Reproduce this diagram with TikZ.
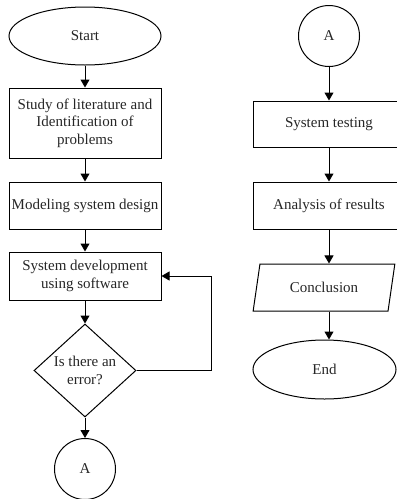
\documentclass[tikz,border=0pt]{standalone}
\usepackage{fontspec}
\setmainfont{Liberation Serif}
\usetikzlibrary{shapes.geometric,arrows.meta}
\newcommand{\leftpart}[1]{\makebox[164pt][l]{\makebox[152pt][c]{#1}}}
\begin{document}
\begin{tikzpicture}[x=1pt,y=-1pt,
  every node/.style={font=\fontsize{15}{17.5}\selectfont, text=black!85, align=center, inner sep=0pt, line width=1pt},
  oval/.style={draw, ellipse},
  procbox/.style={draw, rectangle, minimum width=152pt},
  widebox/.style={draw, rectangle, minimum width=164pt},
  conn/.style={draw, circle, minimum size=61pt},
  decide/.style={draw, diamond, minimum width=102pt, minimum height=93pt},
  iobox/.style={draw, trapezium, trapezium left angle=71, trapezium right angle=109, trapezium stretches=true, minimum width=142pt, minimum height=47pt},
  flow/.style={line width=1pt, -{Triangle[length=8pt,width=9pt]}}
]
\useasboundingbox (0,0) rectangle (397,499);
\clip (0,0) rectangle (397,499);
% left column
\node[oval, minimum width=152pt, minimum height=58pt] (start) at (85,36) {Start};
\node[procbox, minimum height=70pt] (b1) at (85,123) {Study of literature and\\Identification of\\problems};
\node[procbox, minimum height=47pt] (b2) at (85,205.5) {Modeling system design};
\node[procbox, minimum height=48pt] (b3) at (85,276) {System development\\using software};
\node[decide] (d) at (85,370.5) {Is there an\\error?};
\node[conn] (a1) at (85,469) {A};
% right column
\node[conn] (a2) at (329,36) {A};
\node[widebox, minimum height=46pt] (t1) at (335,124) {\leftpart{System testing}};
\node[widebox, minimum height=47pt] (t2) at (335,205.5) {\leftpart{Analysis of results}};
\node[iobox] (con) at (324,287.5) {Conclusion};
\node[oval, minimum width=143pt, minimum height=59pt] (end) at (324.5,369.5) {End};
% connectors
\draw[flow] (start) -- (b1);
\draw[flow] (b1) -- (b2);
\draw[flow] (b2) -- (b3);
\draw[flow] (b3) -- (d);
\draw[flow] (d) -- (a1);
\draw[flow] (d.east) -- ++(75,0) |- (b3.east);
\draw[flow] (a2.south) -- (a2.south |- t1.north);
\draw[flow] (a2.south |- t1.south) -- (a2.south |- t2.north);
\draw[flow] (a2.south |- t2.south) -- (a2.south |- con.north);
\draw[flow] (a2.south |- con.south) -- (a2.south |- end.north);
\end{tikzpicture}
\end{document}
